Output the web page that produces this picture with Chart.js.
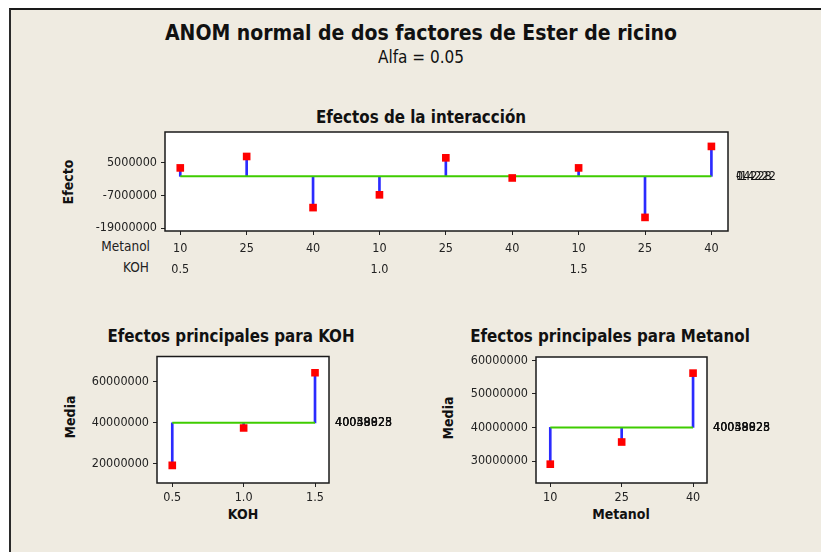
<!DOCTYPE html>
<html>
<head>
<meta charset="utf-8">
<script src="https://cdn.jsdelivr.net/npm/chart.js@4"></script>
<style>
  body { margin: 0; background: #fff; width: 821px; height: 552px; overflow: hidden; position: relative;
         font-family: 'DejaVu Sans Condensed', 'Liberation Sans', sans-serif; color: #111; }
  #frame { position: absolute; left: 9px; top: 8px; width: 812px; height: 544px; background: #efebe1;
           border-left: 2px solid #2a2a2a; border-top: 2px solid #1a1a1a; box-sizing: border-box; }
  canvas { position: absolute; }
  .t { position: absolute; transform: translate(-50%, -50%); white-space: nowrap; }
  .b { font-weight: bold; }
  .v { transform: translate(-50%, -50%) rotate(-90deg); }
  .r { position: absolute; transform: translate(-100%, -50%); white-space: nowrap; font-size: 13.5px; color: #222; }
</style>
</head>
<body>
<div id="frame"></div>

<div class="t b" style="left:421px;top:33px;font-size:21px;">ANOM normal de dos factores de Ester de ricino</div>
<div class="t" style="left:421px;top:57px;font-size:17px;">Alfa = 0.05</div>

<div class="t b" style="left:421px;top:117px;font-size:16.8px;">Efectos de la interacción</div>
<div class="t b v" style="left:68px;top:182px;font-size:14px;">Efecto</div>
<div class="r" style="left:150px;top:246px;">Metanol</div>
<div class="r" style="left:149px;top:267px;">KOH</div>

<div class="t b" style="left:231px;top:336px;font-size:16.8px;">Efectos principales para KOH</div>
<div class="t b v" style="left:70px;top:417px;font-size:14px;">Media</div>
<div class="t b" style="left:243px;top:514px;font-size:14px;">KOH</div>

<div class="t b" style="left:610px;top:336px;font-size:16.8px;">Efectos principales para Metanol</div>
<div class="t b v" style="left:448px;top:418px;font-size:14px;">Media</div>
<div class="t b" style="left:621px;top:514px;font-size:14px;">Metanol</div>

<canvas id="inter" width="821" height="165" style="left:0;top:120px;width:821px;height:165px;"></canvas>
<canvas id="koh" width="410" height="160" style="left:0;top:345px;width:410px;height:160px;"></canvas>
<canvas id="metanol" width="411" height="160" style="left:410px;top:345px;width:411px;height:160px;"></canvas>

<script>
// datos
const metanolLevels = [10, 25, 40];
const kohLevels = [0.5, 1.0, 1.5];

// efectos de la interaccion (KOH x Metanol)
const interMetanol = [10, 25, 40, 10, 25, 40, 10, 25, 40];
const interKoh = ['0.5', '', '', '1.0', '', '', '1.5', '', ''];
const interEffects = [3100000, 7300000, -11500000, -6800000, 6800000, -600000, 3100000, -15100000, 11000000];
const interCenter = 0;
const interLimitLabels = ['0', '-14222', '14228'];
const interYTicks = [-19000000, -7000000, 5000000];

// efectos principales
const kohMeans = [19300000, 37500000, 64500000];
const metanolMeans = [29100000, 35700000, 56200000];
const grandMean = 40049823;
const mainLimitLabels = ['40049823', '40038025', '40058928'];
const kohYTicks = [20000000, 40000000, 60000000];
const metYTicks = [30000000, 40000000, 50000000, 60000000];

const FONT = "'DejaVu Sans Condensed', 'Liberation Sans', sans-serif";
const tickFont = { family: FONT, size: 12.5 };

const framePlugin = {
  id: 'frame',
  beforeDatasetsDraw(chart) {
    const a = chart.chartArea, ctx = chart.ctx;
    ctx.save();
    ctx.fillStyle = '#ffffff';
    ctx.fillRect(a.left, a.top, a.right - a.left, a.bottom - a.top);
    ctx.strokeStyle = '#1a1a1a';
    ctx.lineWidth = 1.5;
    ctx.strokeRect(a.left, a.top, a.right - a.left, a.bottom - a.top);
    ctx.restore();
  },
  afterDraw(chart, args, opts) {
    const a = chart.chartArea, ctx = chart.ctx;
    const y = chart.scales.y.getPixelForValue(opts.center);
    ctx.save();
    ctx.font = '12.5px ' + FONT;
    ctx.fillStyle = '#111';
    ctx.textBaseline = 'middle';
    opts.labels.forEach(t => ctx.fillText(t, a.right + opts.gap, y));
    ctx.restore();
  }
};

// rect de pagina del canvas y del area de grafico
function makePanel(id, canvasRect, plot, c) {
  const n = c.x.length;
  new Chart(document.getElementById(id), {
    type: 'line',
    data: {
      datasets: [
        {
          data: c.x.map((x, i) => ({ x: x, y: c.y[i] })),
          showLine: false, pointStyle: 'rect', pointRadius: 5.4, pointBorderWidth: 0,
          backgroundColor: '#ff0000', borderColor: '#ff0000', order: 0
        },
        {
          data: [{ x: c.x[0], y: c.center }, { x: c.x[n - 1], y: c.center }],
          borderColor: '#3fcc00', borderWidth: 2, pointRadius: 0, order: 1
        },
        {
          type: 'bar',
          data: c.x.map((x, i) => ({ x: x, y: [c.center, c.y[i]] })),
          backgroundColor: '#2b2bff', barThickness: 2, order: 2
        }
      ]
    },
    options: {
      responsive: false,
      animation: false,
      devicePixelRatio: 1,
      layout: {
        padding: {
          left: 0,
          top: plot.top - canvasRect.top,
          right: canvasRect.left + canvasRect.width - plot.right,
          bottom: 0
        }
      },
      plugins: {
        legend: { display: false },
        tooltip: { enabled: false },
        frame: { center: c.center, labels: c.limitLabels, gap: c.gap }
      },
      scales: {
        x: {
          type: 'linear', min: c.xMin, max: c.xMax, offset: false,
          grid: { offset: false, drawOnChartArea: false, drawTicks: true, tickLength: 4, color: '#222' },
          border: { display: false },
          ticks: { font: c.xFont || tickFont, color: '#222', padding: 3, maxRotation: 0, autoSkip: false, callback: c.xLabel },
          afterBuildTicks: s => { s.ticks = c.x.map(v => ({ value: v })); },
          afterFit: s => { s.height = canvasRect.top + canvasRect.height - plot.bottom; }
        },
        y: {
          type: 'linear', min: c.yMin, max: c.yMax, beginAtZero: false,
          grid: { offset: false, drawOnChartArea: false, drawTicks: true, tickLength: 4, color: '#222' },
          border: { display: false },
          ticks: { font: tickFont, color: '#222', padding: 4, callback: v => String(v) },
          afterBuildTicks: s => { s.ticks = c.yTicks.map(v => ({ value: v })); },
          afterFit: s => { s.width = plot.left - canvasRect.left; }
        }
      }
    },
    plugins: [framePlugin]
  });
}

makePanel('inter',
  { left: 0, top: 120, width: 821, height: 165 },
  { left: 165, top: 132, right: 728, bottom: 231 },
  {
    x: interEffects.map((_, i) => i + 1), y: interEffects, center: interCenter,
    xMin: 0.77, xMax: 9.25, yMin: -20100000, yMax: 16300000, yTicks: interYTicks,
    xLabel: v => [String(interMetanol[v - 1]), interKoh[v - 1]],
    xFont: { family: FONT, size: 12.5, lineHeight: 1.68 },
    limitLabels: interLimitLabels, gap: 8
  });

makePanel('koh',
  { left: 0, top: 345, width: 410, height: 160 },
  { left: 157, top: 352, right: 329, bottom: 483 },
  {
    x: kohLevels, y: kohMeans, center: grandMean,
    xMin: 0.393, xMax: 1.598, yMin: 10700000, yMax: 72400000, yTicks: kohYTicks,
    xLabel: v => v.toFixed(1),
    limitLabels: mainLimitLabels, gap: 6
  });

makePanel('metanol',
  { left: 410, top: 345, width: 411, height: 160 },
  { left: 536, top: 357, right: 707, bottom: 483 },
  {
    x: metanolLevels, y: metanolMeans, center: grandMean,
    xMin: 7.0, xMax: 42.93, yMin: 23500000, yMax: 61000000, yTicks: metYTicks,
    xLabel: v => String(v),
    limitLabels: mainLimitLabels, gap: 6
  });
</script>
</body>
</html>
